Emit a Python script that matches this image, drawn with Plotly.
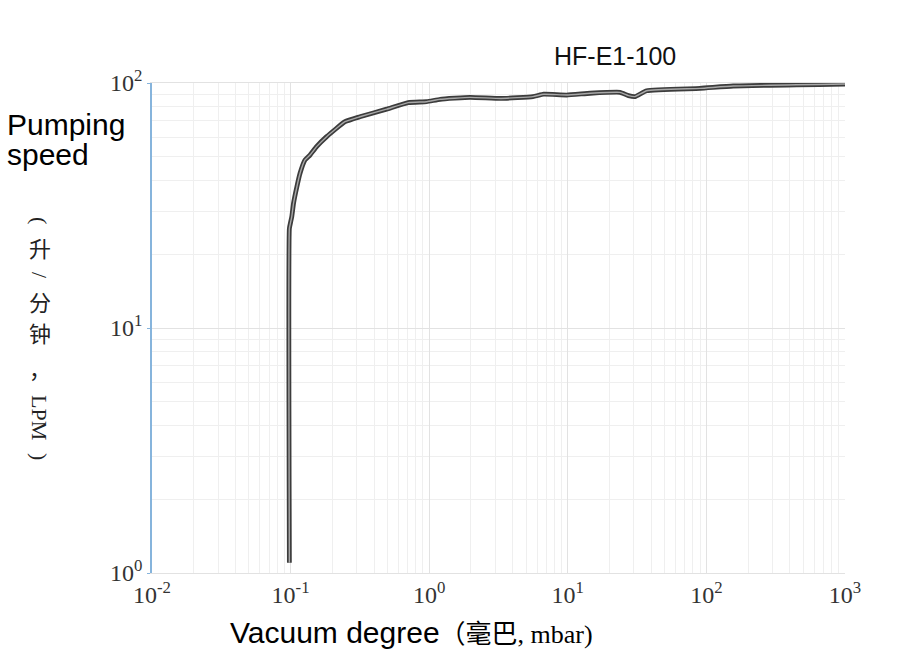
import plotly.graph_objects as go

# Data (vacuum degree in mbar, pumping speed in LPM)
vacuum_mbar = [0.098, 0.098, 0.100, 0.102, 0.105, 0.111, 0.117, 0.127, 0.138, 0.154,
               0.182, 0.247, 0.316, 0.493, 0.706, 0.96, 1.2, 1.97, 3.3, 5.6,
               6.7, 9.8, 14.5, 23.8, 27.4, 30.6, 37.1, 90, 156, 1000]
speed_lpm = [1.1, 25.5, 27.0, 28.5, 32.3, 37.7, 42.8, 48.5, 50.8, 55.0,
             60.4, 69.5, 72.8, 78.2, 83.2, 83.9, 85.8, 87.4, 86.5, 88.0,
             90.0, 89.3, 90.8, 91.6, 88.8, 88.0, 93.0, 95.1, 97.2, 99.0]

x_tickvals = [0.01, 0.1, 1, 10, 100, 1000]
x_ticktext = ["10<sup>-2</sup>", "10<sup>-1</sup>", "10<sup>0</sup>", "10<sup>1</sup>",
              "10<sup>2</sup>", "10<sup>3</sup>"]
y_tickvals = [1, 10, 100]
y_ticktext = ["10<sup>0</sup>", "10<sup>1</sup>", "10<sup>2</sup>"]

title_text = "HF-E1-100"

SERIF = "Liberation Serif, Noto Sans CJK SC, serif"
SANS = "Liberation Sans, Arial, sans-serif"
CJK = "Noto Sans CJK SC, Liberation Serif, serif"

fig = go.Figure()
fig.add_trace(go.Scatter(x=vacuum_mbar, y=speed_lpm, mode="lines",
                         line=dict(color="#3c3c3c", width=4.8, shape="spline", smoothing=0.4),
                         hoverinfo="skip", showlegend=False))
fig.add_trace(go.Scatter(x=vacuum_mbar, y=speed_lpm, mode="lines",
                         line=dict(color="#a8a8a8", width=1.4, shape="spline", smoothing=0.4),
                         showlegend=False))

grid_major = "#e2e2e2"
grid_minor = "#efefef"
blue = "#86b4dc"

fig.update_layout(
    width=913, height=651,
    margin=dict(l=152, r=68, t=83, b=78),
    paper_bgcolor="white", plot_bgcolor="white",
    xaxis=dict(type="log", range=[-2, 3], tickvals=x_tickvals, ticktext=x_ticktext,
               tickfont=dict(family=SERIF, size=24, color="#333333"),
               showgrid=True, gridcolor=grid_major, gridwidth=1,
               minor=dict(showgrid=True, gridcolor=grid_minor, dtick="D1"),
               showline=True, linecolor=grid_major, mirror=True, ticks="",
               zeroline=False),
    yaxis=dict(type="log", range=[0, 2], tickvals=y_tickvals, ticktext=y_ticktext,
               tickfont=dict(family=SERIF, size=24, color="#333333"),
               showgrid=True, gridcolor=grid_major, gridwidth=1,
               minor=dict(showgrid=True, gridcolor=grid_minor, dtick="D1"),
               showline=True, linecolor=blue, linewidth=1.5,
               ticks="outside", ticklen=3, tickcolor=blue,
               zeroline=False),
)

def px_x(px):
    return (px - 152) / 693.0

def px_y(py):
    return (573 - py) / 490.0

ann = []
ann.append(dict(text=title_text, x=px_x(615), y=px_y(56), xref="paper", yref="paper",
                showarrow=False, xanchor="center", yanchor="middle",
                font=dict(family=SANS, size=25, color="#111111")))
ann.append(dict(text="Pumping", x=px_x(5), y=px_y(124), xref="paper", yref="paper",
                showarrow=False, xanchor="left", yanchor="middle",
                font=dict(family=SANS, size=30, color="#000000")))
ann.append(dict(text="speed", x=px_x(5), y=px_y(154), xref="paper", yref="paper",
                showarrow=False, xanchor="left", yanchor="middle",
                font=dict(family=SANS, size=30, color="#000000")))
ann.append(dict(text="Vacuum degree<span style='font-family:Liberation Serif, Noto Sans CJK SC, serif;font-size:26px'>（毫巴, mbar)</span>",
                x=px_x(228), y=px_y(632), xref="paper", yref="paper",
                showarrow=False, xanchor="left", yanchor="middle",
                font=dict(family=SANS, size=30, color="#000000")))

# vertical unit label: (升/分钟，LPM)
vert = [("(", 221, 90), ("升", 247, 0), ("/", 276, 90), ("分", 301, 0),
        ("钟", 332, 0), ("，", 368, 0), ("LPM", 418, 90), (")", 457, 90)]
for txt, py, ang in vert:
    ann.append(dict(text=txt, x=px_x(40), y=px_y(py), xref="paper", yref="paper",
                    showarrow=False, xanchor="center", yanchor="middle", textangle=ang,
                    font=dict(family=CJK if ang == 0 else SERIF, size=22, color="#222222")))
fig.update_layout(annotations=ann)

fig.write_html("out.html", config={"displayModeBar": False},
               post_script="document.body.style.margin='0px';")
